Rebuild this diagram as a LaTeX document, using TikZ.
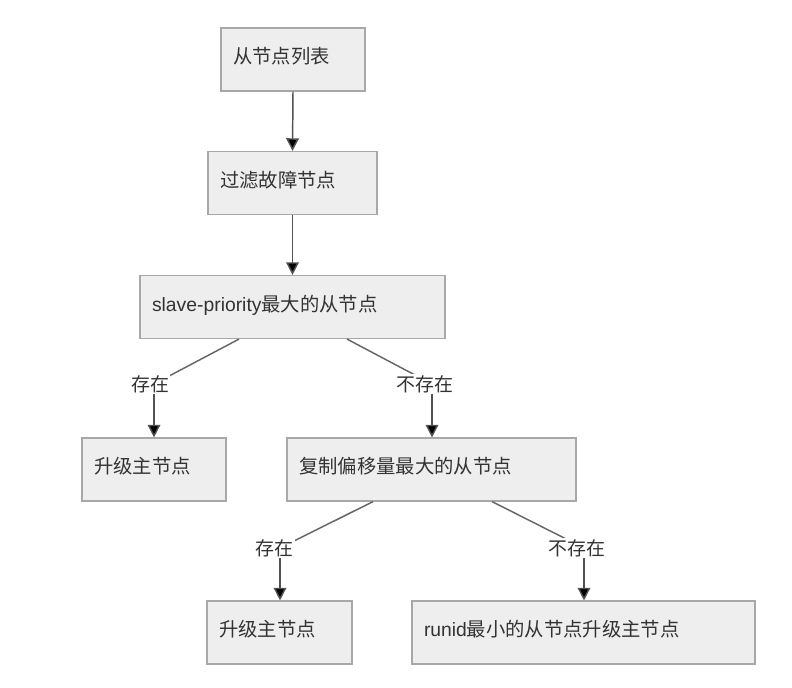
\documentclass[tikz,border=0pt]{standalone}
\usepackage{fontspec}
\setmainfont{Liberation Sans}
\newfontfamily\cjk{Noto Sans CJK SC}
\usetikzlibrary{arrows.meta,calc}
\definecolor{boxfill}{HTML}{EEEEEE}
\definecolor{boxline}{HTML}{A8A8A8}
\definecolor{txt}{HTML}{333333}
\definecolor{edge}{HTML}{666666}
\begin{document}
\begin{tikzpicture}[x=0.75pt,y=-0.75pt,
  stepbox/.style={draw=boxline,fill=boxfill,line width=1.1pt,text=txt,
    font=\fontsize{14.5pt}{17pt}\selectfont,align=left,inner xsep=9pt,
    text height=11pt,text depth=5pt,
    minimum height=47pt,anchor=center},
  lbl/.style={fill=white,text=txt,inner sep=1pt,font=\fontsize{14.2pt}{16pt}\selectfont\cjk},
  conn/.style={draw=edge,line width=1.1pt},
  arr/.style={draw=edge!80!black,line width=1.1pt,-{Triangle[width=9.5pt,length=9.5pt,fill=black]}}]
\useasboundingbox (0,0) rectangle (792,687);
\node[stepbox,text width=90pt] (b1) at (293,59.5) {\cjk 从节点列表};
\node[stepbox,text width=108.75pt] (b2) at (292.5,183) {\cjk 过滤故障节点};
\node[stepbox,text width=210.75pt] (b3) at (292.5,307) {slave-priority{\cjk 最大的从节点}};
\node[stepbox,text width=90pt] (b4) at (154,469.5) {\cjk 升级主节点};
\node[stepbox,text width=198.75pt] (b5) at (431.5,469.5) {\cjk 复制偏移量最大的从节点};
\node[stepbox,text width=90.75pt] (b6) at (279.5,632.5) {\cjk 升级主节点};
\node[stepbox,text width=239.25pt] (b7) at (583.5,632.5) {runid{\cjk 最小的从节点升级主节点}};
\coordinate (j1) at (154,384);
\coordinate (j2) at (432,384);
\coordinate (j3) at (280,548);
\coordinate (j4) at (584,548);
\draw[arr] (b1.south) -- (b2.north);
\draw[arr] (b2.south) -- (b3.north);
\draw[conn] ($(b3.south)+(-53.5,0)$) -- (j1);
\draw[arr] (j1) -- (j1 |- b4.north);
\draw[conn] ($(b3.south)+(54.5,0)$) -- (j2);
\draw[arr] (j2) -- (j2 |- b5.north);
\draw[conn] ($(b5.south)+(-58.5,0)$) -- (j3);
\draw[arr] (j3) -- (j3 |- b6.north);
\draw[conn] ($(b5.south)+(60.5,0)$) -- (j4);
\draw[arr] (j4) -- (j4 |- b7.north);
\node[lbl] (l1) at (150,384) {存在};
\node[lbl] (l2) at (425,384) {不存在};
\node[lbl] (l3) at (274.5,548) {存在};
\node[lbl] (l4) at (577,548) {不存在};
\end{tikzpicture}
\end{document}
